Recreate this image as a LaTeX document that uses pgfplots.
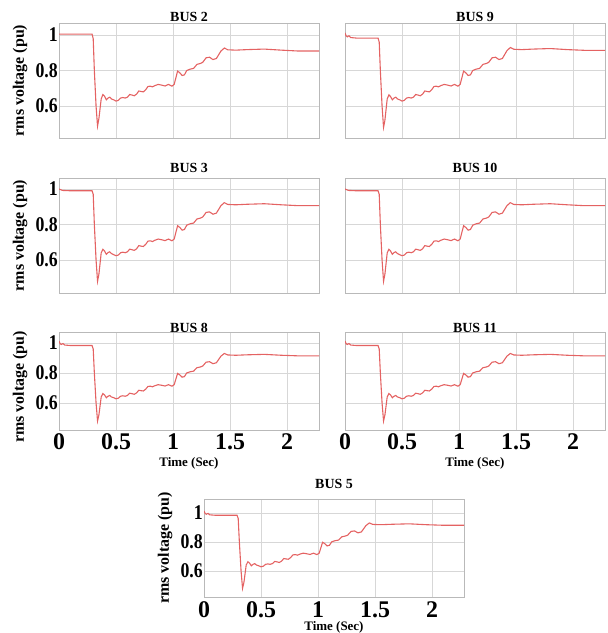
\documentclass[border=0pt]{standalone}
\usepackage{pgfplots}
\pgfplotsset{compat=1.18}
\usepackage{pgfplotstable}
\usepackage{fontspec}
\setmainfont{Liberation Serif}
\newfontfamily\tickfont[FakeStretch=0.85]{Liberation Serif}
\definecolor{curve}{RGB}{228,98,98}
\definecolor{gridc}{RGB}{215,215,215}
\definecolor{framec}{RGB}{185,185,185}

\pgfplotstableread{
t v
0 1.005
0.29 1.005
0.30 0.98
0.31 0.80
0.325 0.60
0.338 0.487
0.35 0.53
0.37 0.64
0.385 0.665
0.40 0.655
0.415 0.635
0.43 0.645
0.445 0.650
0.46 0.640
0.48 0.635
0.50 0.628
0.52 0.632
0.54 0.645
0.56 0.648
0.58 0.645
0.60 0.650
0.62 0.665
0.64 0.662
0.66 0.658
0.68 0.667
0.70 0.685
0.72 0.682
0.74 0.680
0.76 0.692
0.78 0.710
0.80 0.712
0.82 0.708
0.84 0.715
0.87 0.722
0.90 0.718
0.93 0.713
0.96 0.722
0.99 0.712
1.01 0.722
1.04 0.797
1.06 0.787
1.08 0.772
1.10 0.776
1.12 0.800
1.15 0.808
1.18 0.812
1.21 0.835
1.24 0.840
1.26 0.846
1.29 0.872
1.32 0.875
1.35 0.862
1.38 0.868
1.42 0.910
1.45 0.927
1.48 0.917
1.55 0.915
1.65 0.918
1.80 0.921
1.95 0.915
2.10 0.910
2.28 0.910
}\busA

\pgfplotstableread{
t v
0 1.012
0.01 0.995
0.02 0.99
0.035 0.996
0.05 0.986
0.10 0.983
0.29 0.983
0.30 0.96
0.31 0.80
0.325 0.60
0.338 0.480
0.35 0.52
0.37 0.64
0.385 0.663
0.40 0.653
0.415 0.635
0.43 0.645
0.445 0.650
0.46 0.640
0.48 0.635
0.50 0.628
0.52 0.632
0.54 0.645
0.56 0.648
0.58 0.645
0.60 0.650
0.62 0.665
0.64 0.662
0.66 0.658
0.68 0.667
0.70 0.685
0.72 0.682
0.74 0.680
0.76 0.692
0.78 0.710
0.80 0.712
0.82 0.708
0.84 0.715
0.87 0.722
0.90 0.718
0.93 0.713
0.96 0.722
0.99 0.712
1.01 0.722
1.04 0.797
1.06 0.787
1.08 0.772
1.10 0.776
1.12 0.800
1.15 0.808
1.18 0.812
1.21 0.835
1.24 0.840
1.26 0.846
1.29 0.872
1.32 0.875
1.35 0.862
1.38 0.868
1.42 0.912
1.45 0.930
1.48 0.920
1.55 0.918
1.65 0.921
1.80 0.924
1.95 0.918
2.10 0.914
2.28 0.914
}\busB

\pgfplotstableread{
t v
0 1.000
0.03 0.992
0.10 0.990
0.29 0.990
0.30 0.97
0.31 0.80
0.325 0.60
0.338 0.480
0.35 0.52
0.37 0.64
0.385 0.660
0.40 0.650
0.415 0.632
0.43 0.642
0.445 0.646
0.46 0.636
0.48 0.630
0.50 0.624
0.52 0.628
0.54 0.641
0.56 0.644
0.58 0.641
0.60 0.646
0.62 0.661
0.64 0.658
0.66 0.654
0.68 0.663
0.70 0.681
0.72 0.678
0.74 0.676
0.76 0.688
0.78 0.706
0.80 0.708
0.82 0.704
0.84 0.711
0.87 0.718
0.90 0.714
0.93 0.709
0.96 0.718
0.99 0.708
1.01 0.718
1.04 0.793
1.06 0.783
1.08 0.768
1.10 0.772
1.12 0.796
1.15 0.804
1.18 0.808
1.21 0.831
1.24 0.836
1.26 0.842
1.29 0.868
1.32 0.871
1.35 0.858
1.38 0.864
1.42 0.906
1.45 0.923
1.48 0.913
1.55 0.911
1.65 0.914
1.80 0.917
1.95 0.911
2.10 0.906
2.28 0.906
}\busC

\pgfplotsset{
  busax/.style={
    scale only axis, width=260bp,
    xmin=0, xmax=2.28,
    xtick={0,0.5,1,1.5,2}, ytick={0.6,0.8,1},
    xticklabels={0,0.5,1,1.5,2},
    grid=major, grid style={draw=gridc, line width=0.5pt},
    axis line style={draw=framec, line width=0.6pt},
    major tick length=0pt,
    /pgf/number format/assume math mode=true,
    yticklabel style={font=\tickfont\bfseries\fontsize{21}{21}\selectfont, anchor=east, xshift=-1bp, inner xsep=0pt},
    xticklabel style={font=\bfseries\fontsize{24}{24}\selectfont, anchor=base, yshift=-20bp, inner sep=0pt},
    title style={font=\bfseries\fontsize{14}{14}\selectfont, at={(axis description cs:0.5,1)}, anchor=base, inner sep=0pt},
    ylabel style={font=\bfseries\fontsize{16}{16}\selectfont, at={(axis description cs:0,0.5)}, anchor=center, yshift=39bp},
    xlabel style={font=\bfseries\fontsize{13}{13}\selectfont, at={(axis description cs:0.5,0)}, anchor=center},
    cycle list={{curve, smooth, tension=0.45, mark=none}},
    every axis plot post/.append style={line width=1.1pt},
  },
  noxl/.style={xticklabels={}},
  noyl/.style={yticklabels={}},
}

\begin{document}
\begin{tikzpicture}
\useasboundingbox (0,0) rectangle (608bp,633bp);
% row 1
\begin{axis}[busax, at={(59bp,495bp)}, anchor=south west, height=115bp,
  ymin=0.42, ymax=1.068, noxl, title={BUS 2}, title style={yshift=-4.5bp},
  ylabel={rms voltage (pu)}]
\addplot table[x=t,y=v] {\busA};
\end{axis}
\begin{axis}[busax, at={(345bp,495bp)}, anchor=south west, height=115bp,
  ymin=0.42, ymax=1.068, noxl, noyl, title={BUS 9}, title style={yshift=-4.5bp}]
\addplot table[x=t,y=v] {\busB};
\end{axis}
% row 2
\begin{axis}[busax, at={(59bp,340bp)}, anchor=south west, height=115bp,
  ymin=0.414, ymax=1.062, noxl, title={BUS 3}, title style={yshift=0bp},
  ylabel={rms voltage (pu)}]
\addplot table[x=t,y=v] {\busC};
\end{axis}
\begin{axis}[busax, at={(345bp,340bp)}, anchor=south west, height=115bp,
  ymin=0.414, ymax=1.062, noxl, noyl, title={BUS 10}, title style={yshift=0bp}]
\addplot table[x=t,y=v] {\busC};
\end{axis}
% row 3
\begin{axis}[busax, at={(59bp,203bp)}, anchor=south west, height=98bp,
  ymin=0.42, ymax=1.073, title={BUS 8}, title style={yshift=-6bp},
  ylabel={rms voltage (pu)}, ylabel style={xshift=-6bp}, xlabel={Time (Sec)}, xlabel style={yshift=-33bp}]
\addplot table[x=t,y=v] {\busB};
\end{axis}
\begin{axis}[busax, at={(345bp,203bp)}, anchor=south west, height=98bp,
  ymin=0.42, ymax=1.073, noyl, title={BUS 11}, title style={yshift=-6bp},
  xlabel={Time (Sec)}, xlabel style={yshift=-33bp}]
\addplot table[x=t,y=v] {\busB};
\end{axis}
% bottom
\begin{axis}[busax, at={(204bp,36bp)}, anchor=south west, height=98bp,
  ymin=0.42, ymax=1.095, title={BUS 5}, title style={yshift=5bp},
  ylabel={rms voltage (pu)}, xlabel={Time (Sec)}, xlabel style={yshift=-30bp}]
\addplot table[x=t,y=v] {\busB};
\end{axis}
\end{tikzpicture}
\end{document}
